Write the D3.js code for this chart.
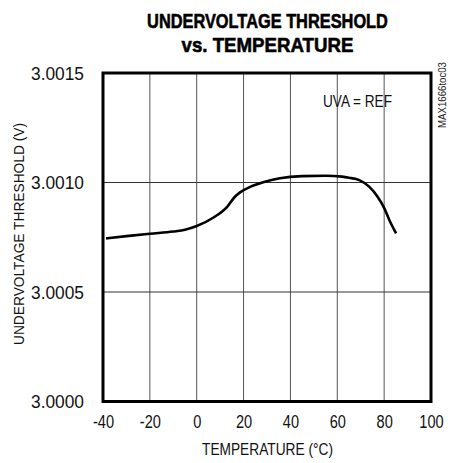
<!DOCTYPE html>
<html><head><meta charset="utf-8">
<script src="https://cdn.jsdelivr.net/npm/d3@7"></script>
<style>body{margin:0;background:#fff}svg{display:block}</style>
</head><body>
<script>
const temps = [-38.7, -30, -20, -10, -5, 0, 7, 13, 16.3, 18.5, 23, 28.4, 35.5, 45, 55, 62, 65, 69.4, 73.6, 77.2, 80.1, 82.2, 85.1];
const thresholds = [3.000745, 3.000755, 3.000766, 3.000776, 3.000784, 3.000801, 3.000839, 3.000889, 3.000935, 3.000955, 3.000981, 3.001001, 3.001019, 3.001029, 3.001031, 3.001027, 3.001022, 3.001011, 3.000981, 3.000935, 3.000882, 3.000829, 3.000768];
const xTicks = [-40, -20, 0, 20, 40, 60, 80, 100];
const yTicks = [3.0000, 3.0005, 3.0010, 3.0015];
const titleLines = ["UNDERVOLTAGE THRESHOLD", "vs. TEMPERATURE"];

const W = 454, H = 463;
const L = 103, R = 431, T = 73, B = 401.5;
const font = "'Liberation Sans', Arial, sans-serif";

const svg = d3.select("body").append("svg").attr("width", W).attr("height", H);
const x = d3.scaleLinear().domain([-40, 100]).range([L, R]);
const y = d3.scaleLinear().domain([3.0000, 3.0015]).range([B, T]);

function squeeze(sel, factor) {
  sel.each(function () {
    const w = this.getComputedTextLength();
    d3.select(this).attr("textLength", w * factor).attr("lengthAdjust", "spacingAndGlyphs");
  });
}
function fitTo(sel, width) {
  sel.attr("textLength", width).attr("lengthAdjust", "spacingAndGlyphs");
}

// grid
svg.append("g").selectAll("line").data(xTicks.slice(1, -1)).join("line")
  .attr("x1", d => x(d)).attr("x2", d => x(d)).attr("y1", T).attr("y2", B)
  .attr("stroke", "#555").attr("stroke-width", 1);
svg.append("g").selectAll("line").data(yTicks.slice(1, -1)).join("line")
  .attr("y1", d => y(d)).attr("y2", d => y(d)).attr("x1", L).attr("x2", R)
  .attr("stroke", "#333").attr("stroke-width", 1);

// axes labels via d3 axes
const xAxis = svg.append("g").attr("transform", `translate(0,${B})`)
  .call(d3.axisBottom(x).tickValues(xTicks).tickSize(0).tickPadding(14).tickFormat(d => String(d)));
xAxis.select(".domain").remove();
xAxis.selectAll("text").attr("font-family", font).attr("font-size", 18).attr("fill", "#111")
  .call(squeeze, 0.81);

const yAxis = svg.append("g").attr("transform", `translate(${L},0)`)
  .call(d3.axisLeft(y).tickValues(yTicks).tickSize(0).tickPadding(19).tickFormat(d3.format(".4f")));
yAxis.select(".domain").remove();
yAxis.selectAll("text").attr("font-family", font).attr("font-size", 18).attr("fill", "#111")
  .attr("dy", "0.36em").call(fitTo, 53);

// frame
svg.append("rect").attr("x", L).attr("y", T).attr("width", R - L)
  .attr("height", B - T).attr("fill", "none").attr("stroke", "#000").attr("stroke-width", 3);

// curve
const line = d3.line().x((d, i) => x(temps[i])).y(d => y(d)).curve(d3.curveMonotoneX);
svg.append("path").datum(thresholds).attr("d", line)
  .attr("fill", "none").attr("stroke", "#000").attr("stroke-width", 2.6);

// title (condensed via horizontal scale)
const titleScale = [241 / 322, 172 / 222];
titleLines.forEach((t, i) => {
  const g = svg.append("g").attr("transform", `translate(267.5,${28 + i * 24})`);
  const txt = g.append("text").attr("text-anchor", "middle").attr("font-family", font)
    .attr("font-weight", "bold").attr("font-size", 21).attr("fill", "#000")
    .attr("stroke", "#000").attr("stroke-width", 0.6).text(t);
  const w = txt.node().getComputedTextLength();
  const target = i === 0 ? 241 : 172;
  txt.attr("transform", `scale(${target / w},1)`);
});

// axis titles
svg.append("text").attr("x", 267.5).attr("y", 455).attr("text-anchor", "middle")
  .attr("font-family", font).attr("font-size", 17).attr("fill", "#111").text("TEMPERATURE (°C)")
  .call(fitTo, 131);
svg.append("text").attr("transform", "translate(24,234) rotate(-90)").attr("text-anchor", "middle")
  .attr("font-family", font).attr("font-size", 15).attr("fill", "#111").text("UNDERVOLTAGE THRESHOLD (V)")
  .call(fitTo, 222);

// annotation
svg.append("text").attr("x", 357.5).attr("y", 107).attr("text-anchor", "middle")
  .attr("font-family", font).attr("font-size", 17).attr("fill", "#111").text("UVA = REF")
  .call(fitTo, 69);
svg.append("text").attr("transform", "translate(446,95) rotate(-90)").attr("text-anchor", "middle")
  .attr("font-family", font).attr("font-size", 10).attr("fill", "#222").text("MAX1666toc03")
  .call(fitTo, 66);
</script>
</body></html>
